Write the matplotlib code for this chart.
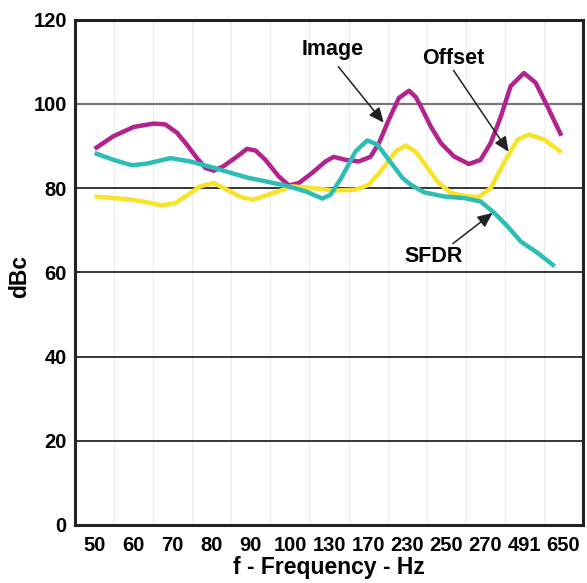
"""
Image, offset and SFDR levels against frequency.
"""

import matplotlib.pyplot as plt

plt.rcParams["font.family"] = ["Liberation Sans", "DejaVu Sans"]
plt.rcParams["font.weight"] = "bold"

freq_labels = ["50", "60", "70", "80", "90", "100", "130", "170", "230", "250", "270", "491", "650"]
db_ticks = [0, 20, 40, 60, 80, 100, 120]

# curves, x is position along the frequency categories
image_x = [0, 0.48, 1.0, 1.51, 1.81, 2.11, 2.36, 2.62, 2.83, 3.05, 3.3, 3.65, 3.9, 4.12, 4.37, 4.71,
           4.97, 5.23, 5.57, 5.91, 6.12, 6.42, 6.76, 7.06, 7.28, 7.53, 7.79, 8.05, 8.22, 8.35, 8.6,
           8.86, 9.2, 9.58, 9.88, 10.14, 10.4, 10.65, 10.99, 11.29, 11.59, 11.95]
image_db = [89.3, 92.3, 94.5, 95.3, 95.1, 93.1, 90.3, 87.1, 84.8, 84.1, 85.2, 87.5, 89.3, 88.9, 86.7,
            82.8, 80.6, 81.2, 83.6, 86.3, 87.4, 86.7, 86.3, 87.4, 90.7, 96.2, 101.4, 103.1, 101.6,
            99.4, 94.7, 90.7, 87.5, 85.7, 86.7, 90.7, 97.0, 104.2, 107.3, 105.0, 99.4, 92.4]

offset_x = [0, 0.5, 1.0, 1.34, 1.72, 2.06, 2.36, 2.7, 3.05, 3.39, 3.73, 4.05, 4.63, 5.06, 5.57, 6.17,
            6.68, 7.02, 7.36, 7.71, 7.96, 8.22, 8.43, 8.77, 9.12, 9.54, 9.84, 10.14, 10.48, 10.83,
            11.12, 11.51, 11.95]
offset_db = [78.0, 77.6, 77.2, 76.6, 75.9, 76.4, 78.2, 80.4, 81.2, 79.6, 77.9, 77.2, 79.0, 80.4, 80.0,
             79.4, 79.6, 80.8, 84.4, 88.7, 90.1, 88.6, 86.0, 81.6, 78.8, 78.0, 77.9, 80.0, 86.0, 91.5,
             92.7, 91.5, 88.5]

sfdr_x = [0, 0.48, 0.95, 1.34, 1.94, 2.45, 3.05, 3.56, 3.94, 4.37, 4.88, 5.4, 5.83, 6.04, 6.34, 6.68,
          6.98, 7.24, 7.53, 7.88, 8.09, 8.43, 8.94, 9.46, 9.88, 10.23, 10.57, 10.91, 11.34, 11.78]
sfdr_db = [88.3, 86.7, 85.4, 85.8, 87.1, 86.3, 84.8, 83.4, 82.4, 81.6, 80.6, 79.2, 77.5, 78.4, 82.8,
           88.7, 91.3, 90.3, 86.7, 82.4, 80.8, 79.0, 78.0, 77.6, 76.8, 74.1, 70.9, 67.3, 64.6, 61.4]

figure = plt.figure(figsize=(5.87, 5.83), dpi=100)
axes = figure.add_axes([0.128, 0.0995, 0.865, 0.867])

line_style = {"lw": 3.2, "solid_joinstyle": "round", "solid_capstyle": "butt", "zorder": 3}
axes.plot(image_x, image_db, color="#b3228d", **line_style)
axes.plot(offset_x, offset_db, color="#f7e32a", **line_style)
axes.plot(sfdr_x, sfdr_db, color="#2ebdb6", **line_style)

axes.set_xlim(-0.5, len(freq_labels) - 0.5)
axes.set_ylim(db_ticks[0], db_ticks[-1])
axes.set_xticks(range(len(freq_labels)))
axes.set_xticklabels(freq_labels)
axes.set_xticks([i + 0.5 for i in range(len(freq_labels) - 1)], minor=True)
axes.set_yticks(db_ticks)

axes.grid(which="minor", axis="x", color="#ececec", lw=0.8)
axes.grid(which="major", axis="y", color="black", lw=1.1)
axes.yaxis.get_gridlines()[5].set_color("#777777")
axes.yaxis.get_gridlines()[5].set_linewidth(1.6)

axes.tick_params(axis="both", which="both", length=0, labelsize=14.5)
axes.tick_params(axis="x", pad=8)
axes.tick_params(axis="y", pad=6)
for side in axes.spines.values():
  side.set_linewidth(2.2)
  side.set_color("#222222")

axes.set_xlabel("f - Frequency - Hz", fontsize=16.5, fontweight="bold", va="center")
axes.set_ylabel("dBc", fontsize=16.5, fontweight="bold", va="center")
axes.xaxis.set_label_coords(0.5, -0.0845)
axes.yaxis.set_label_coords(-0.110, 0.491)

arrow = {"arrowstyle": "-|>,head_length=0.9,head_width=0.4", "color": "#222222", "lw": 1.1,
         "shrinkA": 0, "shrinkB": 0}
axes.text(6.09, 112.9, "Image", ha="center", va="center", fontsize=15.5, fontweight="bold")
axes.annotate("", xy=(7.4, 95.5), xytext=(6.24, 108.8), arrowprops=arrow)
axes.text(9.19, 110.7, "Offset", ha="center", va="center", fontsize=15.5, fontweight="bold")
axes.annotate("", xy=(10.6, 88.6), xytext=(9.19, 107.9), arrowprops=arrow)
axes.text(8.68, 63.7, "SFDR", ha="center", va="center", fontsize=15.5, fontweight="bold")
axes.annotate("", xy=(10.19, 74.1), xytext=(9.17, 66.8), arrowprops=arrow)

plt.savefig("out.png")
plt.close()
